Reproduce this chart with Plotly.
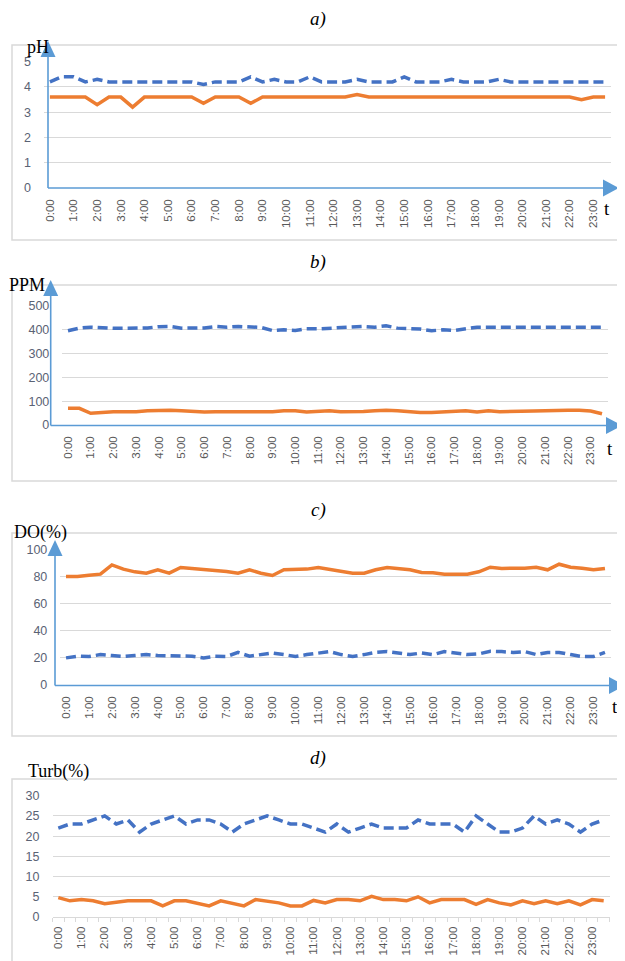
import plotly.graph_objects as go

W, H = 625, 961
OFF = 8  # page body margin offset (px)

# ---------------- data ----------------
times = ["0:00", "0:30", "1:00", "1:30", "2:00", "2:30", "3:00", "3:30",
         "4:00", "4:30", "5:00", "5:30", "6:00", "6:30", "7:00", "7:30",
         "8:00", "8:30", "9:00", "9:30", "10:00", "10:30", "11:00", "11:30",
         "12:00", "12:30", "13:00", "13:30", "14:00", "14:30", "15:00", "15:30",
         "16:00", "16:30", "17:00", "17:30", "18:00", "18:30", "19:00", "19:30",
         "20:00", "20:30", "21:00", "21:30", "22:00", "22:30", "23:00", "23:30"]
hour_labels = times[::2]

ph_blue = [4.2, 4.4, 4.4, 4.2, 4.3, 4.2, 4.2, 4.2, 4.2, 4.2, 4.2, 4.2,
           4.2, 4.1, 4.2, 4.2, 4.2, 4.4, 4.2, 4.3, 4.2, 4.2, 4.4, 4.2,
           4.2, 4.2, 4.3, 4.2, 4.2, 4.2, 4.4, 4.2, 4.2, 4.2, 4.3, 4.2,
           4.2, 4.2, 4.3, 4.2, 4.2, 4.2, 4.2, 4.2, 4.2, 4.2, 4.2, 4.2]
ph_orange = [3.6, 3.6, 3.6, 3.6, 3.3, 3.6, 3.6, 3.2, 3.6, 3.6, 3.6, 3.6,
             3.6, 3.35, 3.6, 3.6, 3.6, 3.35, 3.6, 3.6, 3.6, 3.6, 3.6, 3.6,
             3.6, 3.6, 3.7, 3.6, 3.6, 3.6, 3.6, 3.6, 3.6, 3.6, 3.6, 3.6,
             3.6, 3.6, 3.6, 3.6, 3.6, 3.6, 3.6, 3.6, 3.6, 3.5, 3.6, 3.6]

ppm_blue = [396, 407, 411, 408, 406, 406, 406, 408, 413, 414, 407, 406,
            408, 414, 411, 414, 413, 410, 397, 400, 397, 404, 404, 407,
            411, 411, 414, 411, 417, 407, 404, 403, 396, 400, 397, 404,
            411, 411, 411, 411, 411, 411, 411, 411, 411, 411, 411, 411]
ppm_orange = [70, 70, 49, 53, 56, 56, 56, 60, 62, 62, 60, 56,
              55, 56, 56, 56, 56, 56, 56, 60, 60, 55, 56, 60,
              56, 55, 57, 60, 62, 60, 56, 53, 53, 55, 55, 60,
              55, 60, 56, 56, 56, 59, 60, 62, 62, 62, 59, 47]

do_orange = [80, 80, 80.8, 81.7, 88.5, 85.4, 83.4, 82.4, 84.9, 82.4, 86.6, 85.9,
             85.6, 84.9, 83.7, 82.4, 84.9, 82.4, 80.7, 84.9, 84.9, 85.4, 86.6, 85.4,
             83.7, 82.4, 82.4, 84.9, 86.6, 85.9, 84.9, 82.9, 82.7, 81.7, 81.7, 81.7,
             83.4, 86.8, 85.9, 85.9, 86.1, 86.8, 84.9, 89, 86.8, 86.1, 84.9, 85.9]
do_blue = [20, 21.2, 21, 22.4, 21.7, 21, 21.7, 22.4, 21.7, 21.7, 21.7, 21.2,
           20, 21.2, 21, 24, 21.2, 22.4, 23.6, 22.4, 21, 22.4, 23.6, 24.6,
           22.4, 21, 22.4, 24, 24.6, 23.6, 22.4, 23.6, 22.4, 24.6, 23.6, 22.4,
           22.9, 24.8, 24.6, 24, 24.6, 22.4, 24, 24, 22.4, 21, 21, 24]

turb_blue = [22, 23, 23, 24, 25, 23, 24, 21, 23, 24, 25, 23,
             24, 24, 23, 21, 23, 24, 25, 24, 23, 23, 22, 21,
             23, 21, 22, 23, 22, 22, 22, 24, 23, 23, 23, 21,
             25, 23, 21, 21, 22, 25, 23, 24, 23, 21, 23, 24]
turb_orange = [4.8, 4.0, 4.3, 4.0, 3.3, 3.75, 4.0, 4.0, 4.0, 2.75, 4.0, 4.0,
               3.3, 2.75, 4.0, 3.3, 2.75, 4.3, 4.0, 3.5, 2.75, 2.75, 4.1, 3.5,
               4.3, 4.3, 4.0, 5.1, 4.3, 4.3, 4.0, 5.0, 3.5, 4.3, 4.3, 4.3,
               3.1, 4.3, 3.5, 3.0, 4.0, 3.3, 4.0, 3.3, 4.0, 3.0, 4.3, 4.0]

panel_titles = ["a)", "b)", "c)", "d)"]
axis_titles = ["pH", "PPM", "DO(%)", "Turb(%)"]
y_max = [5, 500, 100, 30]
y_step = [1, 100, 20, 5]
series = [(ph_blue, ph_orange), (ppm_blue, ppm_orange),
          (do_blue, do_orange), (turb_blue, turb_orange)]

# ---------------- layout geometry (pixels on the page) ----------------
def fx(p):
    return (p - OFF) / W


def fy(p):
    return 1 - (p - OFF) / H


# plot area: left, right, bottom(y=0), top(y=max)
areas = [(44, 611, 188, 61.7), (62.3, 607.7, 425, 306),
         (60.3, 610.7, 685, 549.3), (52.5, 609.5, 917, 795.7)]
boxes = [(12, 45, 640, 240), (12, 285, 640, 481),
         (12, 533, 640, 736), (12, 779, 640, 1010)]
title_pos = [(318, 19), (318, 262), (318, 510), (318, 758)]
ytitle_pos = [(38, 47), (27, 285), (40, 532), (58, 771)]
# arrow axes: x of y-axis, y of x-axis, top tip, right tip
arrows = [(48, 188, 41, 619), (50.7, 425.5, 280, 622), (55, 685.5, 540, 625)]
t_pos = [(607, 208), (610, 448), (615, 706)]

BLUE = "#4472c4"
ORANGE = "#ed7d31"
ARROW = "#5b9bd5"
GRID = "#d9d9d9"
TICK = "#595959"
SERIF = "Liberation Serif, Times New Roman, serif"
SANS = "Liberation Sans, Arial, sans-serif"

x_idx = list(range(len(times)))
fig = go.Figure()
layout = dict(width=W, height=H, margin=dict(l=0, r=0, t=0, b=0, autoexpand=False),
              paper_bgcolor="white", plot_bgcolor="white", showlegend=False)
shapes = []
annotations = []

for k in range(4):
    n = "" if k == 0 else str(k + 1)
    blue, orange = series[k]
    fig.add_trace(go.Scatter(x=x_idx, y=blue, mode="lines", xaxis="x" + n, yaxis="y" + n,
                             line=dict(color=BLUE, width=3.5, dash="10px,5px")))
    fig.add_trace(go.Scatter(x=x_idx, y=orange, mode="lines", xaxis="x" + n, yaxis="y" + n,
                             line=dict(color=ORANGE, width=3.5)))
    l, r, b, t = areas[k]
    xa = dict(domain=[fx(l), fx(r)], range=[-0.5, len(times) - 0.5], anchor="y" + n,
              tickmode="array", tickvals=x_idx[::2], ticktext=hour_labels,
              tickangle=-90, showgrid=False, zeroline=False, ticks="",
              automargin=False,
              tickfont=dict(family=SANS, size=11.5, color=TICK),
              ticklabelstandoff=8)
    if k == 3:
        xa.update(showline=True, linecolor=GRID, linewidth=1.2,
                  minor=dict(tickvals=[i - 0.5 for i in range(len(times) + 1)],
                             ticks="outside", ticklen=4, tickcolor=GRID, tickwidth=1.2),
                  ticklabelstandoff=4)
    else:
        xa.update(showline=False)
    ya = dict(domain=[fy(b), fy(t)], range=[0, y_max[k]], dtick=y_step[k], tick0=0,
              anchor="x" + n, showgrid=True, gridcolor=GRID, gridwidth=1.2,
              zeroline=False, showline=False, ticks="", automargin=False,
              tickfont=dict(family=SANS, size=12.5, color="#5a6274"),
              ticklabelstandoff=12)
    layout["xaxis" + n] = xa
    layout["yaxis" + n] = ya

    # outer chart box
    bx0, by0, bx1, by1 = boxes[k]
    shapes.append(dict(type="rect", xref="paper", yref="paper", layer="below",
                       x0=fx(bx0), x1=fx(bx1), y0=fy(by1), y1=fy(by0),
                       line=dict(color=GRID, width=1.5), fillcolor="rgba(0,0,0,0)"))
    tx, ty = title_pos[k]
    annotations.append(dict(x=fx(tx), y=fy(ty), xref="paper", yref="paper",
                            text="<i>" + panel_titles[k] + "</i>", showarrow=False,
                            font=dict(family=SERIF, size=19, color="black"),
                            xanchor="center", yanchor="middle"))
    ax_, ay_ = ytitle_pos[k]
    annotations.append(dict(x=fx(ax_), y=fy(ay_), xref="paper", yref="paper",
                            text=axis_titles[k], showarrow=False,
                            font=dict(family=SERIF, size=18, color="black"),
                            xanchor="center", yanchor="middle"))

for k in range(3):
    x0, y0, ytip, xtip = arrows[k]
    shapes.append(dict(type="line", xref="paper", yref="paper",
                       x0=fx(x0), x1=fx(x0), y0=fy(y0), y1=fy(ytip + 12),
                       line=dict(color=ARROW, width=1.6)))
    shapes.append(dict(type="line", xref="paper", yref="paper",
                       x0=fx(x0), x1=fx(xtip - 14), y0=fy(y0), y1=fy(y0),
                       line=dict(color=ARROW, width=1.6)))
    up = "M {} {} L {} {} L {} {} Z".format(fx(x0), fy(ytip), fx(x0 - 7.5), fy(ytip + 16),
                                           fx(x0 + 7.5), fy(ytip + 16))
    rt = "M {} {} L {} {} L {} {} Z".format(fx(xtip), fy(y0), fx(xtip - 16), fy(y0 - 8.5),
                                           fx(xtip - 16), fy(y0 + 8.5))
    for p in (up, rt):
        shapes.append(dict(type="path", xref="paper", yref="paper", path=p,
                           fillcolor=ARROW, line=dict(color=ARROW, width=0)))
    tx, ty = t_pos[k]
    annotations.append(dict(x=fx(tx), y=fy(ty), xref="paper", yref="paper",
                            text="t", showarrow=False,
                            font=dict(family=SERIF, size=19, color="black"),
                            xanchor="center", yanchor="middle"))

layout["shapes"] = shapes
layout["annotations"] = annotations
fig.update_layout(**layout)
fig.write_html("out.html")
